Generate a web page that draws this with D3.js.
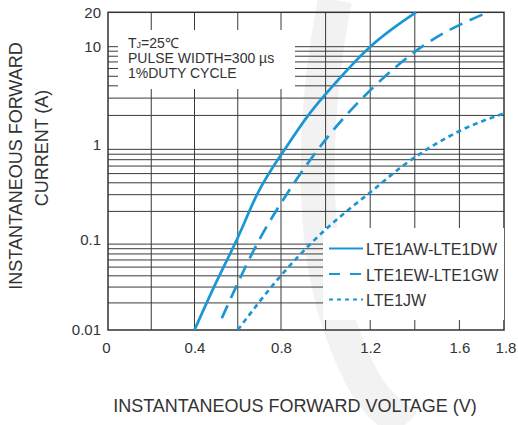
<!DOCTYPE html>
<html>
<head>
<meta charset="UTF-8">
<title>IF-VF</title>
<script src="https://cdn.jsdelivr.net/npm/d3@7/dist/d3.min.js"></script>
<style>
  body { margin: 0; background: #fff; }
  svg { display: block; font-family: "Liberation Sans", Arial, sans-serif; }
  .grid line { stroke: #3a3a3a; stroke-width: 1; }
  .axis text { font-size: 15px; fill: #333; font-family: "Liberation Sans", Arial, sans-serif; }
  .title { font-size: 18px; fill: #333; }
  .note { font-size: 14px; fill: #333; }
  .legend text { font-size: 16px; fill: #333; }
  .curve { fill: none; stroke: #1a96d4; stroke-width: 2.7; }
</style>
</head>
<body>
<svg width="518" height="425"></svg>
<script>
// 坐标轴刻度
var xTicks = [0, 0.4, 0.8, 1.2, 1.6, 1.8];
var xGrid = [0.2, 0.4, 0.6, 0.8, 1.0, 1.2, 1.4, 1.6];
var yTicks = [0.01, 0.1, 1, 10, 20];
var yTickLabels = ["0.01", "0.1", "1", "10", "20"];

// 三条曲线 (电压 V, 电流 A)
var awV = [0.40, 0.487, 0.595, 0.692, 0.83, 0.922, 1.049, 1.20, 1.405];
var awI = [0.01, 0.029, 0.10, 0.31, 1.0, 2.0, 4.4, 10, 20];
var ewV = [0.526, 0.699, 0.848, 0.981, 1.233, 1.432, 1.727];
var ewI = [0.0135, 0.10, 0.364, 1.0, 4.24, 10, 20];
var jwV = [0.60, 0.795, 0.935, 1.101, 1.204, 1.332, 1.596, 1.80];
var jwI = [0.01, 0.039, 0.092, 0.207, 0.322, 0.569, 1.37, 2.1];

var names = ["LTE1AW-LTE1DW", "LTE1EW-LTE1GW", "LTE1JW"];

var svg = d3.select("svg");

var x = d3.scaleLinear().domain([0, 0.8, 1.8]).range([108, 281, 504]);
// 每个十倍程的高度不完全一样，用分段对数
var y = d3.scaleLog().domain([0.01, 0.1, 1, 10, 20]).range([330, 240, 145, 46.7, 12.3]);

// 背景水印
svg.append("path")
  .attr("d", "M335,0 C315,100 308,230 338,320 S390,410 405,425")
  .attr("fill", "none")
  .attr("stroke", "#f2f2f2")
  .attr("stroke-width", 34);

// 网格
var yGrid = [];
[0.01, 0.1, 1].forEach(function(d) {
  for (var k = 2; k <= 9; k++) yGrid.push(d * k);
});
yGrid.push(10);

var grid = svg.append("g").attr("class", "grid");
grid.selectAll("line.h").data(yGrid).enter().append("line")
  .attr("class", "h")
  .attr("x1", x(0)).attr("x2", x(1.8))
  .attr("y1", function(d) { return y(d); })
  .attr("y2", function(d) { return y(d); });
grid.selectAll("line.v").data(xGrid).enter().append("line")
  .attr("class", "v")
  .attr("x1", function(d) { return x(d); })
  .attr("x2", function(d) { return x(d); })
  .attr("y1", y(20)).attr("y2", y(0.01));

// 边框
svg.append("rect")
  .attr("x", x(0)).attr("y", y(20))
  .attr("width", x(1.8) - x(0)).attr("height", y(0.01) - y(20))
  .attr("fill", "none").attr("stroke", "#333").attr("stroke-width", 1.5);

// 条件说明框
svg.append("rect")
  .attr("x", 118).attr("y", 30).attr("width", 177).attr("height", 59)
  .attr("fill", "#fff");
var note = svg.append("text").attr("class", "note").attr("x", 128);
var t1 = note.append("tspan").attr("x", 128).attr("y", 48);
t1.append("tspan").text("T");
t1.append("tspan").style("font-size", "9px").text("J");
t1.append("tspan").text("=25\u2103");
note.append("tspan").attr("x", 128).attr("y", 63).text("PULSE WIDTH=300 \u00b5s");
note.append("tspan").attr("x", 128).attr("y", 77.5).text("1%DUTY CYCLE");

// 图例框
svg.append("rect")
  .attr("x", 323).attr("y", 228).attr("width", 181).attr("height", 92)
  .attr("fill", "#fff");

// 坐标轴
var xAxis = svg.append("g").attr("class", "axis")
  .attr("transform", "translate(0," + y(0.01) + ")")
  .call(d3.axisBottom(x).tickValues(xTicks).tickSize(0).tickPadding(12)
    .tickFormat(function(d) { return d === 0 ? "0" : d3.format(".1f")(d); }));
xAxis.select(".domain").remove();
xAxis.selectAll(".tick text").attr("dx", function(d) { return d === 1.8 ? 1.5 : (d === 0 ? -2 : 0); });

var yAxis = svg.append("g").attr("class", "axis")
  .attr("transform", "translate(" + x(0) + ",0)")
  .call(d3.axisLeft(y).tickValues(yTicks).tickSize(0).tickPadding(7)
    .tickFormat(function(d, i) { return yTickLabels[i]; }));
yAxis.select(".domain").remove();
svg.selectAll(".axis text").attr("fill", "#333");

// 曲线
var series = [
  { name: names[0], v: awV, i: awI, dash: null, legDash: null },
  { name: names[1], v: ewV, i: ewI, dash: "14,8", legDash: "11,10" },
  { name: names[2], v: jwV, i: jwI, dash: "5,4", legDash: "4,4" }
];

var line = d3.line()
  .x(function(d) { return x(d[0]); })
  .y(function(d) { return y(d[1]); })
  .curve(d3.curveMonotoneX);

svg.selectAll("path.curve").data(series).enter().append("path")
  .attr("class", "curve")
  .attr("stroke-dasharray", function(d) { return d.dash; })
  .attr("d", function(d) { return line(d3.zip(d.v, d.i)); });

// 图例
var legend = svg.append("g").attr("class", "legend");
var item = legend.selectAll("g").data(series).enter().append("g")
  .attr("transform", function(d, k) { return "translate(329," + (248.5 + k * 25.5) + ")"; });
item.append("line")
  .attr("x1", 0).attr("x2", 34).attr("y1", 0).attr("y2", 0)
  .attr("stroke", "#1a96d4").attr("stroke-width", 2)
  .attr("stroke-dasharray", function(d) { return d.legDash; });
item.append("text").attr("x", 37).attr("y", 6.5).text(function(d) { return d.name; });

// 轴标题
svg.append("text").attr("class", "title")
  .attr("text-anchor", "middle")
  .attr("x", 295).attr("y", 412)
  .text("INSTANTANEOUS FORWARD VOLTAGE (V)");
svg.append("text").attr("class", "title")
  .attr("text-anchor", "middle")
  .attr("transform", "translate(22,166) rotate(-90)")
  .text("INSTANTANEOUS FORWARD");
svg.append("text").attr("class", "title")
  .attr("text-anchor", "middle")
  .attr("transform", "translate(48,148) rotate(-90)")
  .text("CURRENT (A)");
</script>
</body>
</html>
